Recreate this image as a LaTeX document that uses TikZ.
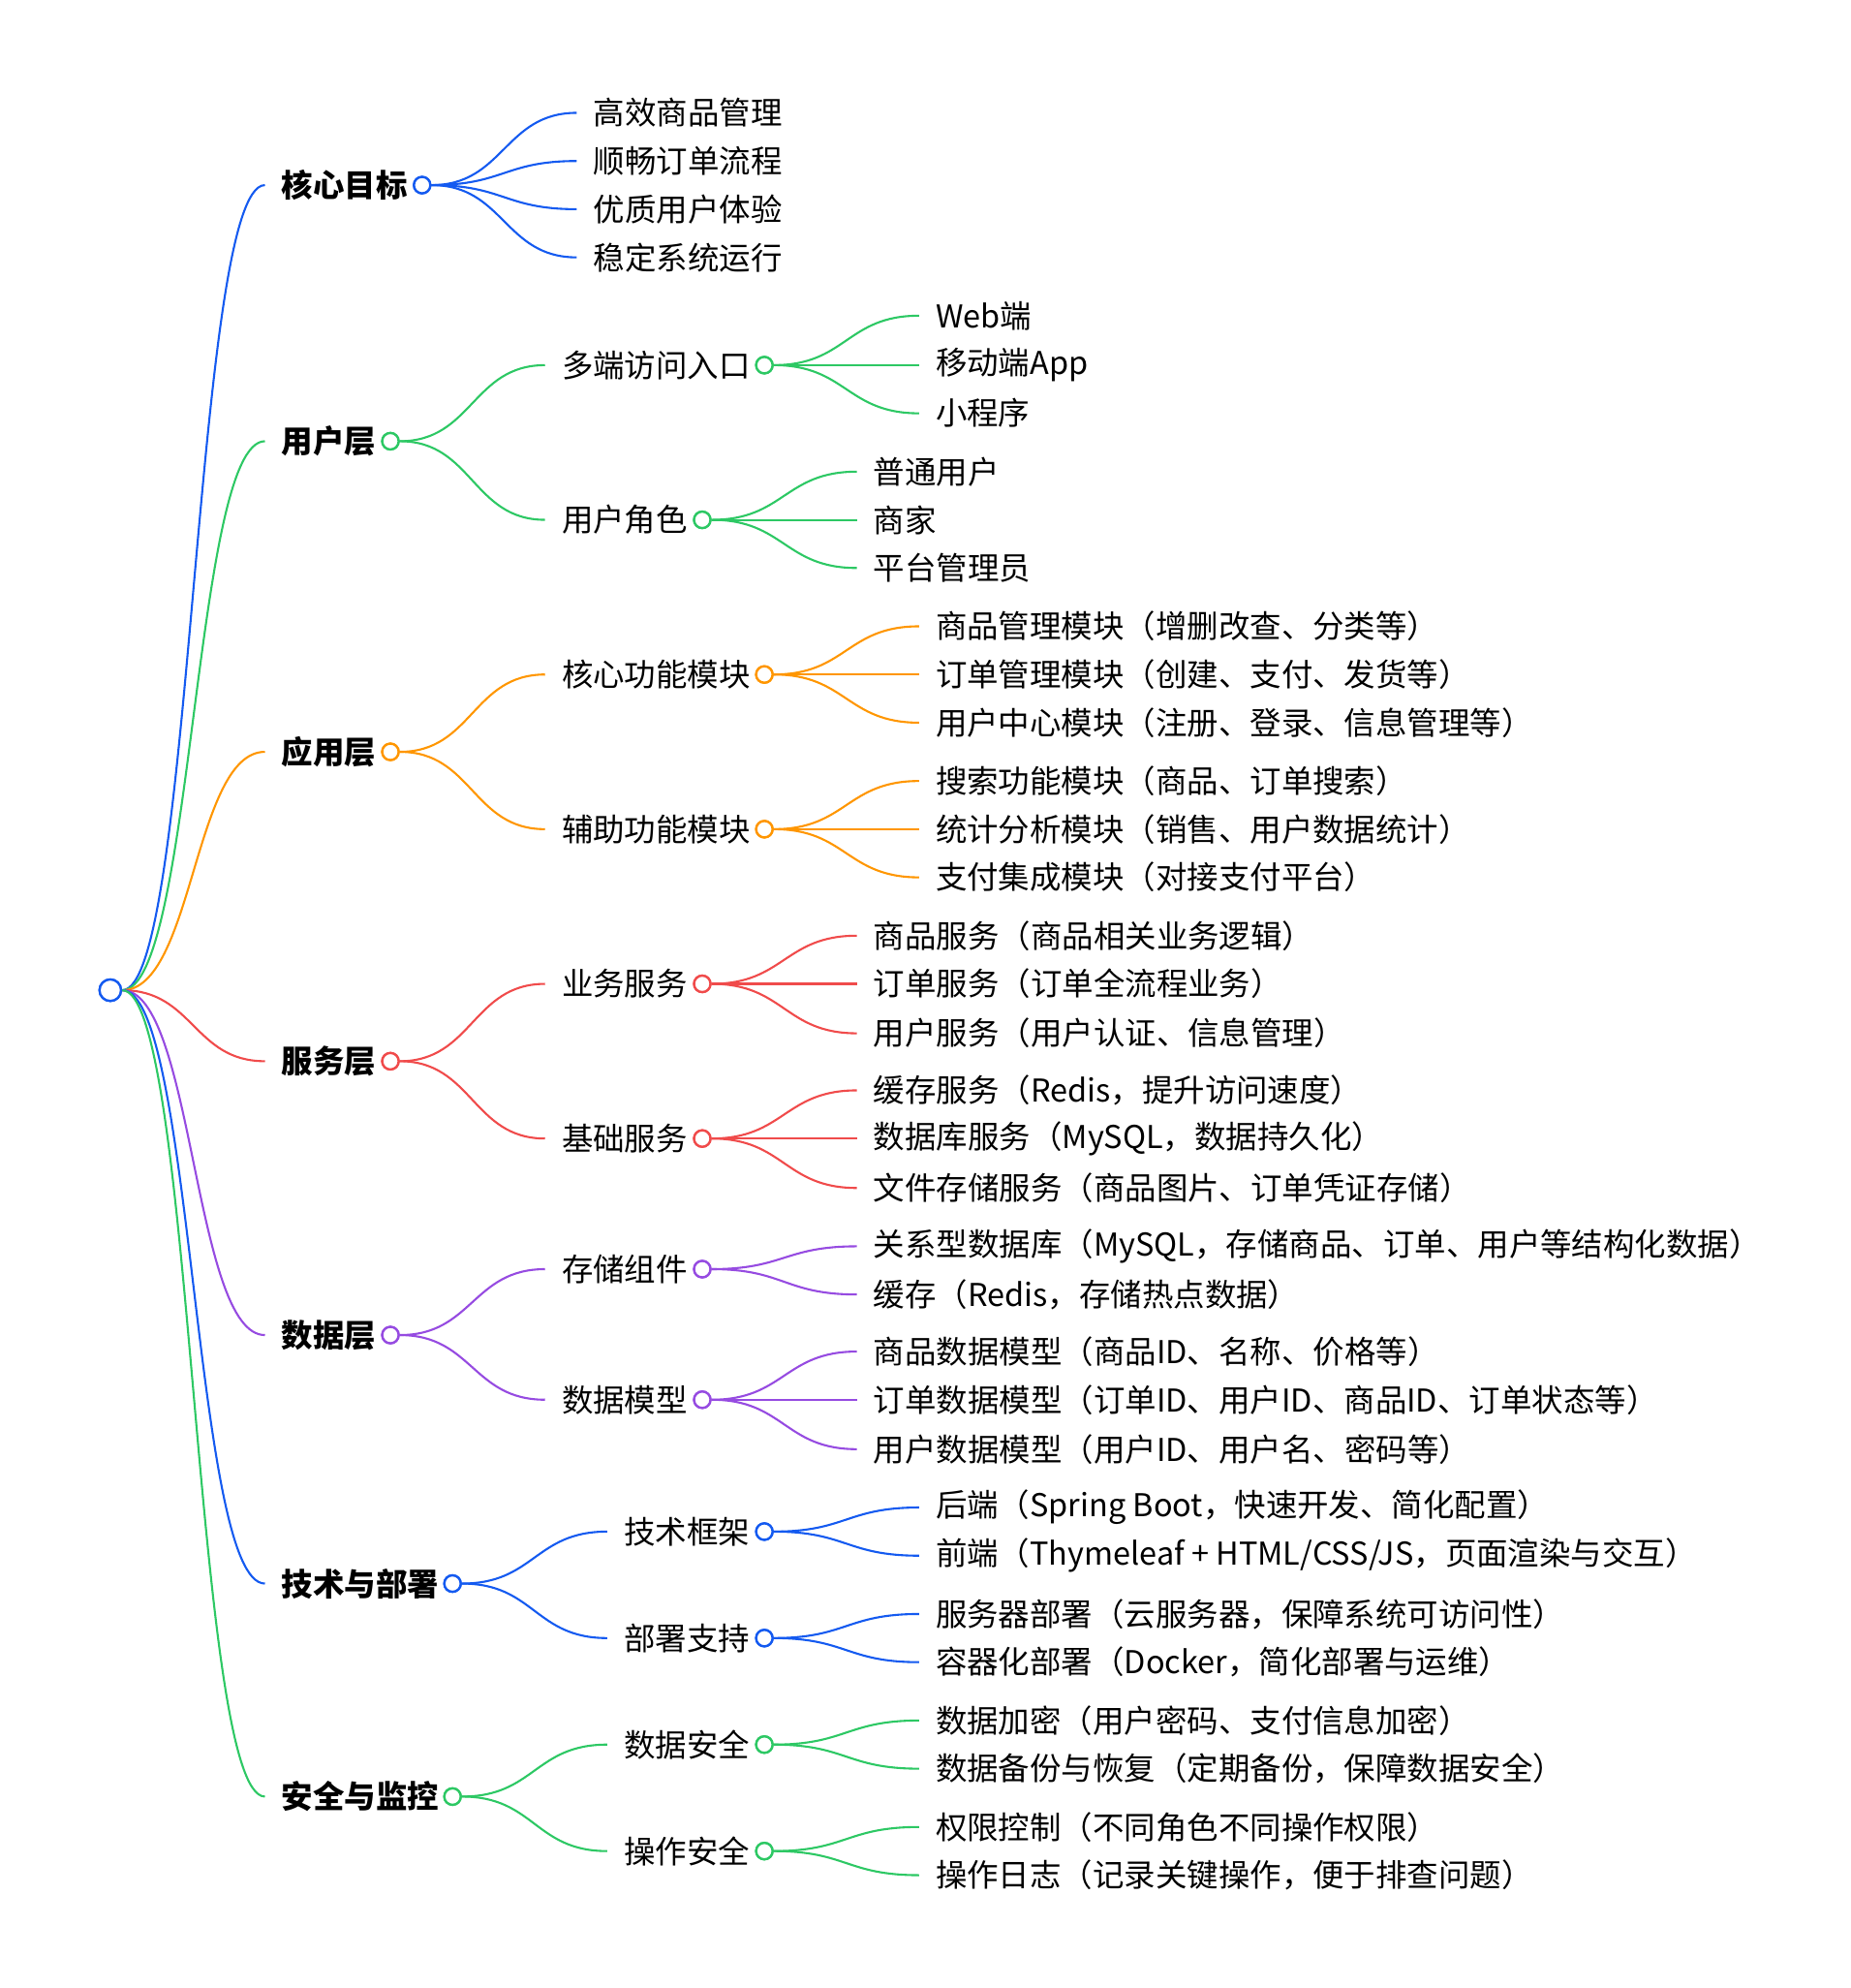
\documentclass[tikz,border=0pt]{standalone}
\usepackage{fontspec}
\setmainfont{Noto Sans CJK SC}
\usetikzlibrary{calc}
\begin{document}
\begin{tikzpicture}[x=1pt,y=-1pt,
 cc/.style={circle,draw,fill=white,line width=1.8pt,inner sep=0pt,minimum size=13pt},
 tt/.style={anchor=west,inner xsep=13pt,inner ysep=0pt,font=\fontsize{24.8}{27}\selectfont},
 bb/.style={tt,font=\fontsize{24.8}{27}\selectfont\bfseries},
 ln/.style={line width=1.6pt}]
\definecolor{cb}{RGB}{20,90,240}
\definecolor{cg}{RGB}{45,200,100}
\definecolor{co}{RGB}{255,150,0}
\definecolor{cr}{RGB}{240,75,75}
\definecolor{cp}{RGB}{150,75,225}
\useasboundingbox (0,0) rectangle (1460,1568);
\newcommand\cnx[3]{\draw[#1,ln] let \p1=(#2.east),\p2=(#3.west),\n1={(\x2-\x1)/2} in
 (\p1) .. controls +(\n1,0) and +(-\n1,0) .. (\p2);}
\newcommand\lf[6]{\node[tt] (#1) at (#4-13,#5) {#6};
 \cnx{#2}{#3}{#1}}
\newcommand\brn[8]{%
 \node[#8] (#1) at (#4-13,#5) {#7};
 \node[cc,draw=#2] (#1c) at (#6,#5) {};
 \cnx{#2}{#3}{#1}}
\node[cc,draw=cb,minimum size=17pt] (root) at (87,781) {};
\brn{a}{cb}{root}{222}{146}{333}{核心目标}{bb}
\brn{b}{cg}{root}{222}{348}{308}{用户层}{bb}
\brn{c}{co}{root}{222}{593}{308}{应用层}{bb}
\brn{d}{cr}{root}{222}{837}{308}{服务层}{bb}
\brn{e}{cp}{root}{222}{1053}{308}{数据层}{bb}
\brn{f}{cb}{root}{222}{1249}{357}{技术与部署}{bb}
\brn{g}{cg}{root}{222}{1417}{357}{安全与监控}{bb}
\node[cc,draw=cb,minimum size=17pt] at (root) {};
\lf{a1}{cb}{ac}{468}{89}{高效商品管理}
\lf{a2}{cb}{ac}{468}{127}{顺畅订单流程}
\lf{a3}{cb}{ac}{468}{165}{优质用户体验}
\lf{a4}{cb}{ac}{468}{203}{稳定系统运行}
\node[cc,draw=cb] at (ac) {};
\brn{b1}{cg}{bc}{443}{288}{603}{多端访问入口}{tt}
\brn{b2}{cg}{bc}{443}{410}{554}{用户角色}{tt}
\node[cc,draw=cg] at (bc) {};
\lf{b11}{cg}{b1c}{738}{249}{Web端}
\lf{b12}{cg}{b1c}{738}{288}{移动端App}
\lf{b13}{cg}{b1c}{738}{326}{小程序}
\node[cc,draw=cg] at (b1c) {};
\lf{b21}{cg}{b2c}{689}{372}{普通用户}
\lf{b22}{cg}{b2c}{689}{410}{商家}
\lf{b23}{cg}{b2c}{689}{448}{平台管理员}
\node[cc,draw=cg] at (b2c) {};
\brn{c1}{co}{cc}{443}{532}{603}{核心功能模块}{tt}
\brn{c2}{co}{cc}{443}{654}{603}{辅助功能模块}{tt}
\node[cc,draw=co] at (cc) {};
\lf{c11}{co}{c1c}{738}{494}{商品管理模块（增删改查、分类等）}
\lf{c12}{co}{c1c}{738}{532}{订单管理模块（创建、支付、发货等）}
\lf{c13}{co}{c1c}{738}{570}{用户中心模块（注册、登录、信息管理等）}
\node[cc,draw=co] at (c1c) {};
\lf{c21}{co}{c2c}{738}{616}{搜索功能模块（商品、订单搜索）}
\lf{c22}{co}{c2c}{738}{654}{统计分析模块（销售、用户数据统计）}
\lf{c23}{co}{c2c}{738}{692}{支付集成模块（对接支付平台）}
\node[cc,draw=co] at (c2c) {};
\brn{d1}{cr}{dc}{443}{776}{554}{业务服务}{tt}
\brn{d2}{cr}{dc}{443}{898}{554}{基础服务}{tt}
\node[cc,draw=cr] at (dc) {};
\lf{d11}{cr}{d1c}{689}{738}{商品服务（商品相关业务逻辑）}
\lf{d12}{cr}{d1c}{689}{776}{订单服务（订单全流程业务）}
\lf{d13}{cr}{d1c}{689}{815}{用户服务（用户认证、信息管理）}
\node[cc,draw=cr] at (d1c) {};
\lf{d21}{cr}{d2c}{689}{860}{缓存服务（Redis，提升访问速度）}
\lf{d22}{cr}{d2c}{689}{898}{数据库服务（MySQL，数据持久化）}
\lf{d23}{cr}{d2c}{689}{937}{文件存储服务（商品图片、订单凭证存储）}
\node[cc,draw=cr] at (d2c) {};
\brn{e1}{cp}{ec}{443}{1001}{554}{存储组件}{tt}
\brn{e2}{cp}{ec}{443}{1104}{554}{数据模型}{tt}
\node[cc,draw=cp] at (ec) {};
\lf{e11}{cp}{e1c}{689}{983}{关系型数据库（MySQL，存储商品、订单、用户等结构化数据）}
\lf{e12}{cp}{e1c}{689}{1021}{缓存（Redis，存储热点数据）}
\node[cc,draw=cp] at (e1c) {};
\lf{e21}{cp}{e2c}{689}{1066}{商品数据模型（商品ID、名称、价格等）}
\lf{e22}{cp}{e2c}{689}{1104}{订单数据模型（订单ID、用户ID、商品ID、订单状态等）}
\lf{e23}{cp}{e2c}{689}{1143}{用户数据模型（用户ID、用户名、密码等）}
\node[cc,draw=cp] at (e2c) {};
\brn{f1}{cb}{fc}{492}{1208}{603}{技术框架}{tt}
\brn{f2}{cb}{fc}{492}{1292}{603}{部署支持}{tt}
\node[cc,draw=cb] at (fc) {};
\lf{f11}{cb}{f1c}{738}{1189}{后端（Spring Boot，快速开发、简化配置）}
\lf{f12}{cb}{f1c}{738}{1227}{前端（Thymeleaf + HTML/CSS/JS，页面渲染与交互）}
\node[cc,draw=cb] at (f1c) {};
\lf{f21}{cb}{f2c}{738}{1273}{服务器部署（云服务器，保障系统可访问性）}
\lf{f22}{cb}{f2c}{738}{1311}{容器化部署（Docker，简化部署与运维）}
\node[cc,draw=cb] at (f2c) {};
\brn{g1}{cg}{gc}{492}{1376}{603}{数据安全}{tt}
\brn{g2}{cg}{gc}{492}{1460}{603}{操作安全}{tt}
\node[cc,draw=cg] at (gc) {};
\lf{g11}{cg}{g1c}{738}{1357}{数据加密（用户密码、支付信息加密）}
\lf{g12}{cg}{g1c}{738}{1395}{数据备份与恢复（定期备份，保障数据安全）}
\node[cc,draw=cg] at (g1c) {};
\lf{g21}{cg}{g2c}{738}{1441}{权限控制（不同角色不同操作权限）}
\lf{g22}{cg}{g2c}{738}{1479}{操作日志（记录关键操作，便于排查问题）}
\node[cc,draw=cg] at (g2c) {};
\end{tikzpicture}
\end{document}
